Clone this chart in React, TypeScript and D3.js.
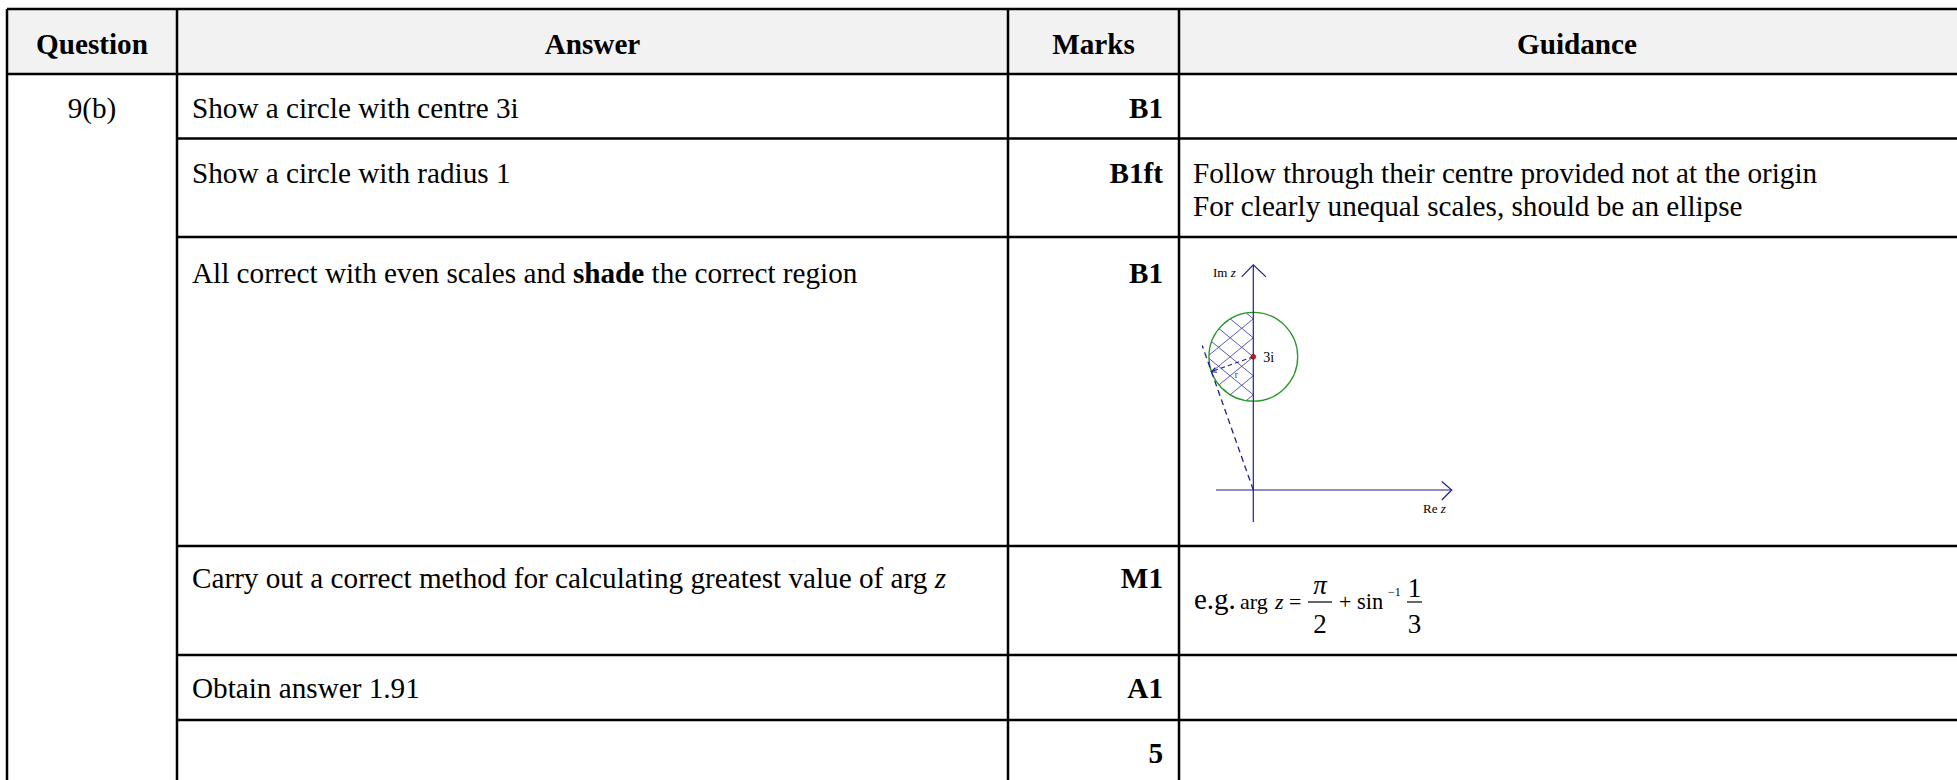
import React from "react";
import * as d3 from "d3";

// ---------- data ----------
const headers = ["Question", "Answer", "Marks", "Guidance"];
const questionLabel = "9(b)";
const answerRows = [
  "Show a circle with centre 3i",
  "Show a circle with radius 1",
  "All correct with even scales and |shade| the correct region",
  "Carry out a correct method for calculating greatest value of arg ~z~",
  "Obtain answer 1.91",
  "",
];
const marksRows = ["B1", "B1ft", "B1", "M1", "A1", "5"];
const guidanceRows: string[][] = [
  [],
  ["Follow through their centre provided not at the origin", "For clearly unequal scales, should be an ellipse"],
  [],
  [],
  [],
  [],
];
// diagram values (complex plane units)
const circleCentre = { re: 0, im: 3 };
const circleRadius = 1;
const centreLabel = "3i";
const radiusLabel = "r";

// ---------- layout ----------
const W = 1957, H = 780;
const colX = [7, 177, 1008, 1179, 1975];
const tableTop = 9;
const headerBottom = 74;
const rowBottoms = [138.5, 237, 546, 655, 720, 900];
const rowBaselines = [118, 183, 283, 588, 698, 763];
const FONT = "'Liberation Serif', 'Times New Roman', Times, serif";
const FS = 29.2;

function RichText({ x, y, text }: { x: number; y: number; text: string }) {
  // |bold|, ~italic~
  const parts: { t: string; b?: boolean; i?: boolean }[] = [];
  const re = /(\|[^|]+\||~[^~]+~)/g;
  let last = 0;
  let m: RegExpExecArray | null;
  while ((m = re.exec(text))) {
    if (m.index > last) parts.push({ t: text.slice(last, m.index) });
    const s = m[0];
    if (s[0] === "|") parts.push({ t: s.slice(1, -1), b: true });
    else parts.push({ t: s.slice(1, -1), i: true });
    last = m.index + s.length;
  }
  if (last < text.length) parts.push({ t: text.slice(last) });
  return (
    <text x={x} y={y} fontFamily={FONT} fontSize={FS} fill="#000" style={{ whiteSpace: "pre" }}>
      {parts.map((p, k) => (
        <tspan key={k} fontWeight={p.b ? "bold" : "normal"} fontStyle={p.i ? "italic" : "normal"}>
          {p.t}
        </tspan>
      ))}
    </text>
  );
}

function Diagram() {
  const ox = 1253.3, oy = 490, unit = 44.4;
  const x = d3.scaleLinear().domain([0, 1]).range([ox, ox + unit]);
  const y = d3.scaleLinear().domain([0, 1]).range([oy, oy - unit]);
  const axis = "#1f1f8f";
  const cx = x(circleCentre.re), cy = y(circleCentre.im);
  const rpx = x(circleRadius) - x(0);
  // tangent
  const ang = Math.PI / 2 + Math.asin(circleRadius / circleCentre.im);
  const tLen = Math.sqrt(circleCentre.im ** 2 - circleRadius ** 2);
  const tp = { re: tLen * Math.cos(ang), im: tLen * Math.sin(ang) };
  const tEnd = { re: 3.45 * Math.cos(ang), im: 3.45 * Math.sin(ang) };
  // hatch
  const slope = 0.82, step = 19;
  const hatch: string[] = [];
  for (let n = -8; n <= 8; n++) {
    const b = cy + n * step;
    const x0 = cx - 80, x1 = cx + 10;
    hatch.push(`M${x0},${b - slope * (x0 - cx)}L${x1},${b - slope * (x1 - cx)}`);
    hatch.push(`M${x0},${b + slope * (x0 - cx)}L${x1},${b + slope * (x1 - cx)}`);
  }
  const line = d3.line<{ re: number; im: number }>().x((d) => x(d.re)).y((d) => y(d.im));
  // arrowhead on radius at tangent point
  const tpx = x(tp.re), tpy = y(tp.im);
  const dx = tpx - cx, dy = tpy - cy, dl = Math.hypot(dx, dy);
  const ux = dx / dl, uy = dy / dl;
  const ah = 5;
  const arrow = `M${tpx - ux * ah - uy * 2.5},${tpy - uy * ah + ux * 2.5}L${tpx},${tpy}L${tpx - ux * ah + uy * 2.5},${tpy - uy * ah - ux * 2.5}`;
  return (
    <g>
      <defs>
        <clipPath id="lefthalf">
          <path d={`M${cx},${cy - rpx} A${rpx},${rpx} 0 0 0 ${cx},${cy + rpx} Z`} />
        </clipPath>
      </defs>
      <g clipPath="url(#lefthalf)">
        {hatch.map((d, k) => (
          <path key={k} d={d} stroke="#3434aa" strokeWidth={0.9} fill="none" opacity={0.9} />
        ))}
      </g>
      <circle cx={cx} cy={cy} r={rpx} fill="none" stroke="#2a962a" strokeWidth={1.3} />
      {/* axes */}
      <line x1={x(-0.84)} y1={y(0)} x2={x(4.47)} y2={y(0)} stroke={axis} strokeWidth={1.2} />
      <path d={`M${x(4.47) - 10},${y(0) - 8.5}L${x(4.47)},${y(0)}L${x(4.47) - 10},${y(0) + 10}`} fill="none" stroke={axis} strokeWidth={1.2} />
      <line x1={x(0)} y1={y(-0.72)} x2={x(0)} y2={y(5.07)} stroke={axis} strokeWidth={1.2} />
      <path d={`M${x(0) - 11.6},${y(5.07) + 12}L${x(0)},${y(5.07)}L${x(0) + 12.7},${y(5.07) + 12}`} fill="none" stroke={axis} strokeWidth={1.2} />
      {/* tangent & radius */}
      <path d={line([{ re: 0, im: 0 }, tEnd]) || ""} stroke={axis} strokeWidth={1.3} strokeDasharray="6,4" fill="none" />
      <path d={`M${cx},${cy}L${tpx},${tpy}`} stroke={axis} strokeWidth={1.1} strokeDasharray="4.5,3" fill="none" />
      <path d={arrow} stroke={axis} strokeWidth={1.1} fill="none" />
      <circle cx={cx} cy={cy} r={2.4} fill="#e01010" stroke="#500" strokeWidth={0.6} />
      <text x={cx + 10} y={cy + 5} fontFamily={FONT} fontSize={14}>{centreLabel}</text>
      <text x={1234.5} y={377.5} fontFamily={FONT} fontSize={11} fill="#555">{radiusLabel}</text>
      <text x={1213} y={277} fontFamily={FONT} fontSize={13}>
        Im <tspan fontStyle="italic">z</tspan>
      </text>
      <text x={1423} y={513} fontFamily={FONT} fontSize={13}>
        Re <tspan fontStyle="italic">z</tspan>
      </text>
    </g>
  );
}

function Formula() {
  const yb = 609;
  return (
    <g fontFamily={FONT} fill="#000">
      <text x={1194} y={yb} fontSize={29}>e.g.</text>
      <text x={1240} y={yb} fontSize={22}>arg</text>
      <text x={1275} y={yb} fontSize={22} fontStyle="italic">z</text>
      <text x={1289} y={yb} fontSize={22}>=</text>
      <text x={1320} y={594} fontSize={27} fontStyle="italic" textAnchor="middle">π</text>
      <line x1={1308} x2={1332} y1={602} y2={602} stroke="#000" strokeWidth={1.2} />
      <text x={1320} y={633} fontSize={27} textAnchor="middle">2</text>
      <text x={1339} y={yb} fontSize={22}>+</text>
      <text x={1357} y={yb} fontSize={22.5}>sin</text>
      <text x={1388} y={596} fontSize={12}>−1</text>
      <text x={1414.5} y={597} fontSize={27} textAnchor="middle">1</text>
      <line x1={1407} x2={1422} y1={602} y2={602} stroke="#000" strokeWidth={1.2} />
      <text x={1414.5} y={633} fontSize={27} textAnchor="middle">3</text>
    </g>
  );
}

export default function App() {
  const sw = 2.5;
  return (
    <svg width={W} height={H} style={{ position: "absolute", left: 0, top: 0, background: "#fff" }}>
      <rect x={0} y={0} width={W} height={H} fill="#fff" />
      <rect x={colX[0]} y={tableTop} width={colX[4] - colX[0]} height={headerBottom - tableTop} fill="#f2f2f2" />
      {/* header texts */}
      {headers.map((h, i) => (
        <text key={h} x={(colX[i] + colX[i + 1]) / 2} y={53.5} textAnchor="middle" fontFamily={FONT} fontSize={FS} fontWeight="bold">
          {h}
        </text>
      ))}
      <text x={(colX[0] + colX[1]) / 2} y={rowBaselines[0]} textAnchor="middle" fontFamily={FONT} fontSize={FS}>
        {questionLabel}
      </text>
      {answerRows.map((a, i) => (a ? <RichText key={i} x={192} y={rowBaselines[i]} text={a} /> : null))}
      {marksRows.map((m, i) => (
        <text key={i} x={colX[3] - 16} y={rowBaselines[i]} textAnchor="end" fontFamily={FONT} fontSize={FS} fontWeight="bold">
          {m}
        </text>
      ))}
      {guidanceRows.map((g, i) =>
        g.map((l, j) => (
          <text key={i + "-" + j} x={1193} y={rowBaselines[i] + j * 33} fontFamily={FONT} fontSize={FS}>
            {l}
          </text>
        ))
      )}
      <Diagram />
      <Formula />
      {/* grid lines */}
      <line x1={colX[0]} x2={colX[4]} y1={tableTop} y2={tableTop} stroke="#000" strokeWidth={sw} />
      <line x1={colX[0]} x2={colX[4]} y1={headerBottom} y2={headerBottom} stroke="#000" strokeWidth={sw} />
      {rowBottoms.slice(0, -1).map((yy, i) => (
        <line key={i} x1={colX[1]} x2={colX[4]} y1={yy} y2={yy} stroke="#000" strokeWidth={sw} />
      ))}
      {colX.slice(0, 4).map((xx, i) => (
        <line key={i} x1={xx} x2={xx} y1={tableTop} y2={H + 5} stroke="#000" strokeWidth={sw} />
      ))}
    </svg>
  );
}
